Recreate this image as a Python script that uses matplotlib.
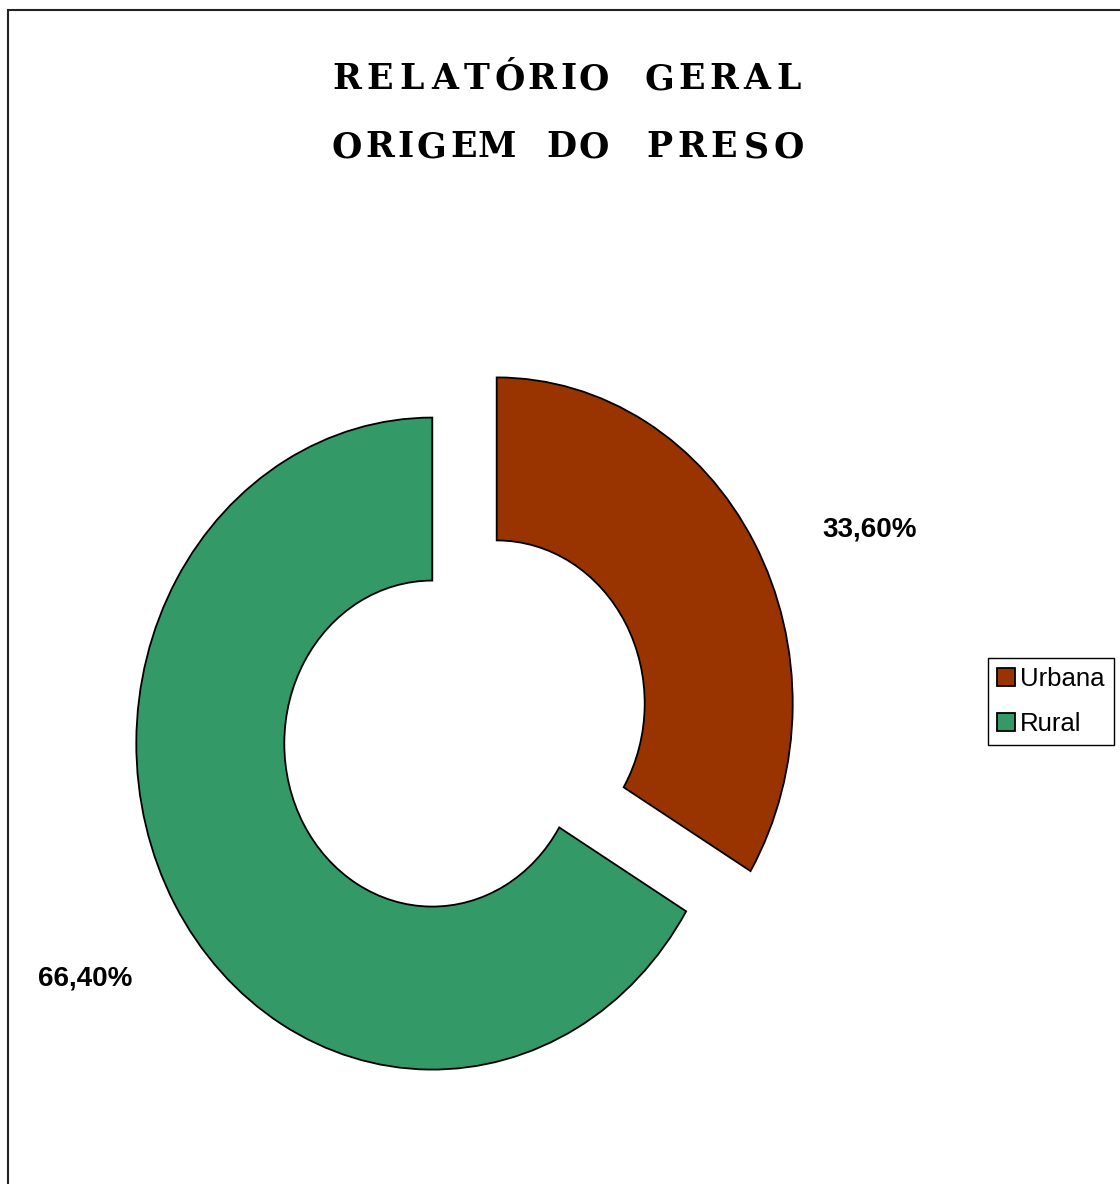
import numpy as np
import matplotlib
matplotlib.use("Agg")
import matplotlib.pyplot as plt
from matplotlib.patches import Rectangle

# dados do relatório
categorias = ["Urbana", "Rural"]
percentuais = [33.60, 66.40]
cores = ["#993300", "#339966"]
rotulos = ["33,60%", "66,40%"]
titulo = ["RELATÓRIO GERAL", "ORIGEM DO PRESO"]

W, H = 1120, 1184
fig = plt.figure(figsize=(W / 100, H / 100), dpi=100)
fig.patch.set_facecolor("white")

# moldura do gráfico (passa das bordas direita e inferior)
fig.patches.append(Rectangle((8 / W, -0.1), 1.2, 1 - 10 / H + 0.1,
                             transform=fig.transFigure, fill=False,
                             edgecolor="#222222", lw=1.5))

# eixo ocupando a figura inteira; escala horizontal um pouco menor que a vertical
cx, cy = 464.5, 723.5
sx, sy = 296.0, 326.0
ax = fig.add_axes([0, 0, 1, 1])
wedges, _ = ax.pie(percentuais, colors=cores, startangle=90, counterclock=False,
                   explode=[0.125, 0.125], radius=1.0,
                   wedgeprops=dict(width=0.5, edgecolor="black", linewidth=1.3))
ax.set_aspect("auto")
ax.set_xlim(-cx / sx, (W - cx) / sx)
ax.set_ylim(-(H - cy) / sy, cy / sy)
ax.axis("off")

# rótulos de percentual
pos_rotulos = [(1.37, 0.594), (-1.282, -0.781)]
for (x, y), txt in zip(pos_rotulos, rotulos):
    ax.text(x, y, txt, ha="center", va="center", fontsize=20,
            fontweight="bold", family="Liberation Sans")

# título com espaçamento largo entre as letras
def titulo_espacado(texto, yc, passo=32.5):
    xs = []
    x = 0
    for i, ch in enumerate(texto):
        xs.append(x)
        nxt = texto[i + 1] if i + 1 < len(texto) else ""
        if ch == "I" or nxt == "I":
            x += passo * 0.8
        else:
            x += passo
    off = 568 - (xs[0] + xs[-1]) / 2
    for ch, xx in zip(texto, xs):
        if ch == " ":
            continue
        fig.text((xx + off) / W, 1 - yc / H, ch, ha="center", va="center",
                 fontsize=25, fontweight="bold",
                 family=["DejaVu Serif", "Liberation Serif"])

titulo_espacado(titulo[0], 79)
titulo_espacado(titulo[1], 147)

leg = fig.legend(wedges, categorias, loc="upper left",
                 bbox_to_anchor=(988 / W, 1 - 658 / H), borderaxespad=0,
                 fancybox=False, edgecolor="black", framealpha=1,
                 prop=dict(family="Liberation Sans", size=18.5),
                 handlelength=0.7, handleheight=0.7, handletextpad=0.2,
                 labelspacing=0.8, borderpad=0.35)
leg.get_frame().set_linewidth(1.0)

fig.savefig("out.png", dpi=100, facecolor="white")
